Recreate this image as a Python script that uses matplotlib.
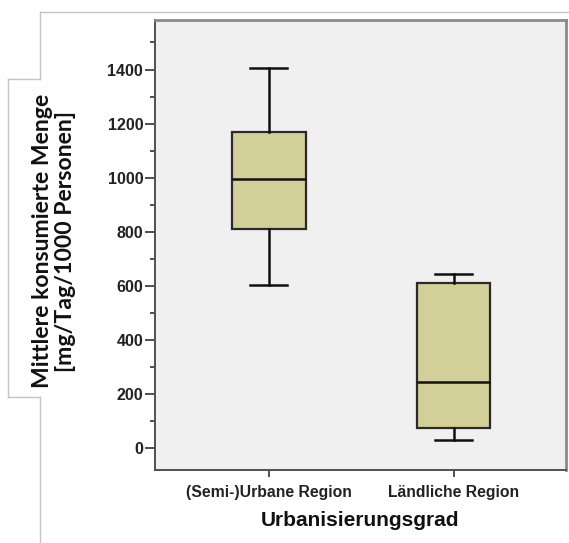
import matplotlib
matplotlib.use("Agg")
import matplotlib.pyplot as plt
from matplotlib.lines import Line2D
from matplotlib.ticker import MultipleLocator

categories = ["(Semi-)Urbane Region", "Ländliche Region"]
whisker_low = [604, 32]
q1 = [810, 76]
median = [997, 245]
q3 = [1170, 612]
whisker_high = [1405, 644]

y_label = "Mittlere konsumierte Menge\n[mg/Tag/1000 Personen]"
x_label = "Urbanisierungsgrad"

W, H = 569, 543
fig = plt.figure(figsize=(W / 100, H / 100), dpi=100)
fig.patch.set_facecolor("white")

ax = fig.add_axes([155 / W, 1 - 469.5 / H, (566 - 155) / W, (469.5 - 20) / H])
ax.set_facecolor("#f0f0f0")

stats = []
for i, c in enumerate(categories):
    stats.append(dict(label=c, whislo=whisker_low[i], q1=q1[i], med=median[i],
                      q3=q3[i], whishi=whisker_high[i], fliers=[]))

ax.bxp(stats, positions=[1, 2], widths=0.40, capwidths=0.20, patch_artist=True,
       showfliers=False,
       boxprops=dict(facecolor="#d3cf99", edgecolor="#2a2a2a", linewidth=1.6),
       medianprops=dict(color="#111111", linewidth=1.8),
       whiskerprops=dict(color="#111111", linewidth=1.8),
       capprops=dict(color="#111111", linewidth=1.8))

ax.set_xlim(0.383, 2.609)
ax.set_ylim(-78, 1583)
ax.yaxis.set_major_locator(MultipleLocator(200))
ax.yaxis.set_minor_locator(MultipleLocator(100))
ax.set_yticks(range(0, 1401, 200))

tick_font = dict(family="Liberation Sans", weight="bold", size=11.3)
ax.set_xticks([1, 2])
ax.set_xticklabels(categories, fontdict=tick_font, color="#222222")
for lab in ax.get_yticklabels():
    lab.set_fontfamily("Liberation Sans")
    lab.set_fontweight("bold")
    lab.set_fontsize(11.5)
    lab.set_color("#222222")

ax.tick_params(axis="y", which="major", length=7, width=1.4, color="#505050", pad=1.5)
ax.tick_params(axis="y", which="minor", length=3.5, width=1.4, color="#505050")
ax.tick_params(axis="x", which="major", length=5, width=1.4, color="#505050", pad=6)

for s in ["left", "bottom"]:
    ax.spines[s].set_color("#505050")
    ax.spines[s].set_linewidth(1.4)
for s in ["top", "right"]:
    ax.spines[s].set_color("#8a8a8a")
    ax.spines[s].set_linewidth(2.0)

ax.set_xlabel(x_label, family="Liberation Sans", weight="bold", size=15, labelpad=8,
              color="#111111")

fig.text(54 / W, 1 - 241 / H, y_label, rotation=90, ha="center", va="center",
         family="Lato", weight="bold", size=16.6, linespacing=1.12, color="#111111")

# decorative grey frame lines
frame_color = "#c4c4c4"
segs = [
    ((40, 12), (W, 12)),
    ((40, 12), (40, 79)),
    ((40, 79), (8, 79)),
    ((8, 79), (8, 397)),
    ((8, 397), (40, 397)),
    ((40, 397), (40, H)),
]
for (x0, y0), (x1, y1) in segs:
    fig.add_artist(Line2D([x0 / W, x1 / W], [1 - y0 / H, 1 - y1 / H],
                          transform=fig.transFigure, color=frame_color, linewidth=1.0))

fig.savefig("out.png", dpi=100)
